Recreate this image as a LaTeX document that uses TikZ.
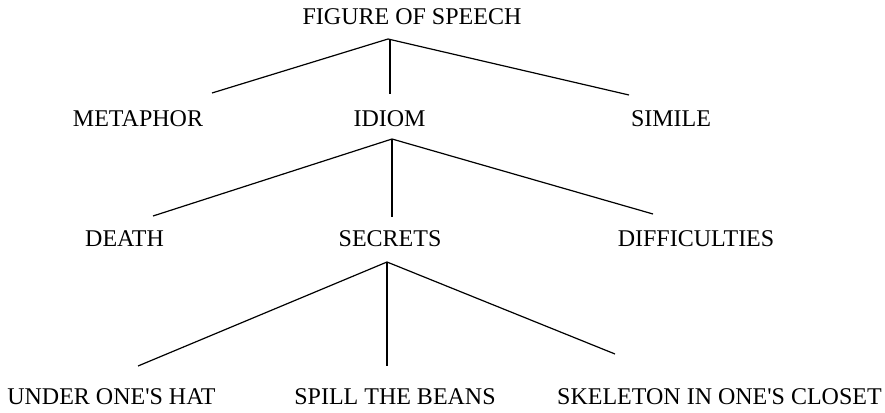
\documentclass[tikz,border=0pt]{standalone}
\usepackage{fontspec}
\setmainfont{Liberation Serif}[Ligatures=TeXOff]
\tikzset{
  lbl/.style={inner sep=0pt, anchor=base, font=\fontsize{24}{28}\selectfont},
  edge/.style={line width=1.2pt, black}
}
\begin{document}
\begin{tikzpicture}[x=1pt,y=-1pt]
\useasboundingbox (0,0) rectangle (885,412);
% nodes
\node[lbl] (fos) at (412,24.5) {FIGURE OF SPEECH};
\node[lbl] (met) at (138,126) {METAPHOR};
\node[lbl] (idi) at (389.5,126) {IDIOM};
\node[lbl] (sim) at (671,126) {SIMILE};
\node[lbl] (dea) at (124.5,246) {DEATH};
\node[lbl] (sec) at (390,246) {SECRETS};
\node[lbl] (dif) at (696,246) {DIFFICULTIES};
\node[lbl] (und) at (111.5,404.5) {UNDER ONE'S HAT};
\node[lbl] (spi) at (395,404.5) {SPILL THE BEANS};
\node[lbl] (ske) at (719.5,404.5) {SKELETON IN ONE'S CLOSET};
% connector points
\coordinate (a1) at (388,39);
\coordinate (a1l) at (212,93);
\coordinate (a1m) at (390,94);
\coordinate (a1r) at (629,95);
\coordinate (a2) at (392,139);
\coordinate (a2l) at (153,216);
\coordinate (a2m) at (392,217);
\coordinate (a2r) at (653,214);
\coordinate (a3) at (387,262);
\coordinate (a3l) at (138,366);
\coordinate (a3m) at (387,366);
\coordinate (a3r) at (615,354);
% connectors
\draw[edge] (a1l) -- (a1) -- (a1r);
\draw[edge] (a1 -| a1m) -- (a1m);
\draw[edge] (a2l) -- (a2) -- (a2r);
\draw[edge] (a2) -- (a2m);
\draw[edge] (a3l) -- (a3) -- (a3r);
\draw[edge] (a3) -- (a3m);
\end{tikzpicture}
\end{document}
